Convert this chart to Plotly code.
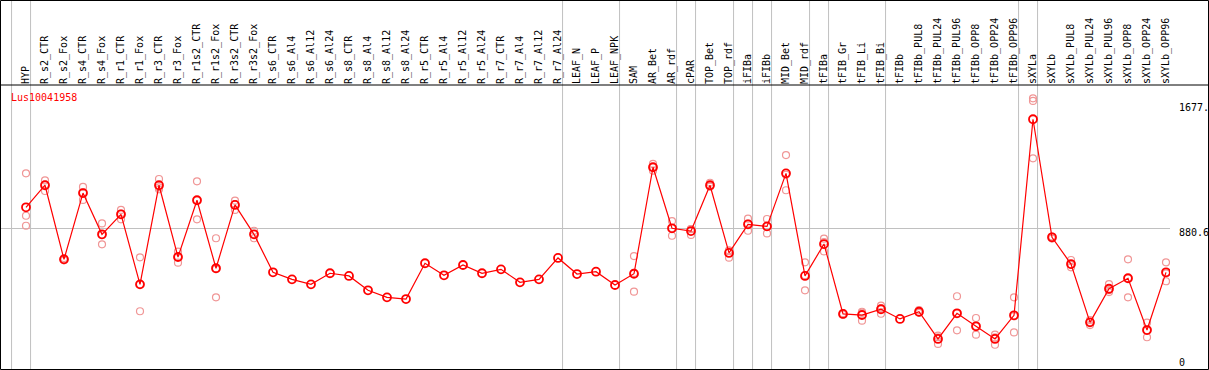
import plotly.graph_objects as go

categories = ["HYP", "R_s2_CTR", "R_s2_Fox", "R_s4_CTR", "R_s4_Fox", "R_r1_CTR", "R_r1_Fox",
              "R_r3_CTR", "R_r3_Fox", "R_r1s2_CTR", "R_r1s2_Fox", "R_r3s2_CTR", "R_r3s2_Fox",
              "R_s6_CTR", "R_s6_Al4", "R_s6_Al12", "R_s6_Al24", "R_s8_CTR", "R_s8_Al4",
              "R_s8_Al12", "R_s8_Al24", "R_r5_CTR", "R_r5_Al4", "R_r5_Al12", "R_r5_Al24",
              "R_r7_CTR", "R_r7_Al4", "R_r7_Al12", "R_r7_Al24", "LEAF_N", "LEAF_P", "LEAF_NPK",
              "SAM", "AR_Bet", "AR_rdf", "cPAR", "TOP_Bet", "TOP_rdf", "iFIBa", "iFIBb",
              "MID_Bet", "MID_rdf", "tFIBa", "tFIB_Gr", "tFIB_Li", "tFIB_Bi", "tFIBb",
              "tFIBb_PUL8", "tFIBb_PUL24", "tFIBb_PUL96", "tFIBb_OPP8", "tFIBb_OPP24",
              "tFIBb_OPP96", "sXYLa", "sXYLb", "sXYLb_PUL8", "sXYLb_PUL24", "sXYLb_PUL96",
              "sXYLb_OPP8", "sXYLb_OPP24", "sXYLb_OPP96"]

mean_values = [1015, 1156, 682, 1106, 842, 970, 522, 1156, 697, 1060, 625, 1030, 842,
               599, 554, 522, 593, 576, 484, 439, 428, 657, 580, 646, 593, 618, 535, 554, 691,
               588, 603, 518, 590, 1271, 880.6, 863, 1156, 723, 906, 893, 1232, 576, 780,
               333, 326, 363, 301, 347, 173, 337, 254, 173, 324, 1578, 823, 652, 279, 494,
               561, 230, 599]

rep1 = [1232, 1187, 690, 1145, 912, 998, 695, 1196, 731, 1181, 817, 1057, 865,
        None, None, None, None, None, None, None, None, None, None, None, None, None, None,
        None, None, None, None, None, 703, 1292, 927, 876, 1172, 737, 942, 940, 1349, 663,
        814, 338, 347, 386, None, 358, 194, 446, 307, 200, 439, 1712, 826, 678, 294, 524,
        682, 277, 663]
rep2 = [961, 1119, 676, 1062, 778, 938, 350, 1130, 661, 938, 439, 998, 817,
        None, None, None, None, None, None, None, None, None, None, None, None, None, None,
        None, None, None, None, None, 475, 1249, 833, 838, 1147, 693, 865, 848, 1124, 484,
        733, 328, 290, 334, None, 340, 141, 228, 200, 136, 215, 1695, 815, 631, 262, 473,
        439, 184, 542]
rep3 = [897, 1160, 680, 1110, 836, 975, 522, 1142, 700, 1060, 620, 1035, 844,
        None, None, None, None, None, None, None, None, None, None, None, None, None, None,
        None, None, None, None, None, 595, 1272, 882, 875, 1150, 740, 911, 891, 1223, 581,
        793, 333, 341, 369, None, 343, 184, 337, 255, 183, 318, 1328, 828, 647, 281, 485,
        562, 229, 592]

# categories after which a grey separator is drawn (None = before the first one)
group_last = [None, "HYP", "R_r7_Al24", "LEAF_NPK", "AR_rdf", "cPAR", "TOP_rdf", "iFIBa",
              "iFIBb", "MID_rdf", "tFIBa", "tFIB_Bi", "tFIBb_OPP96", "sXYLa", "sXYLb_OPP96"]

y_tick_vals = [0, 880.6, 1677]
y_tick_text = ["0", "880.6", "1677."]
gene_id = "Lus10041958"

xs = list(range(1, len(categories) + 1))
FONT = "DejaVu Sans Mono"

fig = go.Figure()
for reps in (rep1, rep2, rep3):
    fig.add_trace(go.Scatter(
        x=xs, y=reps, mode="markers",
        marker=dict(symbol="circle-open", size=7, color="#f09696",
                    line=dict(width=1.2)),
        hoverinfo="skip", showlegend=False))

fig.add_trace(go.Scatter(
    x=xs, y=mean_values, mode="lines+markers",
    line=dict(color="#ff0000", width=1.2),
    marker=dict(symbol="circle-open", size=8, color="#ff0000", line=dict(width=1.8)),
    showlegend=False))

L, R, T, B = 1, 39, 85, 1
W, H = 1209, 370
pw, ph = W - L - R, H - T - B

def px_to_xpaper(px):
    return (px - L) / pw

def px_to_ypaper(py):
    return (H - B - py) / ph

shapes = []
for g in group_last:
    k = 0 if g is None else categories.index(g) + 1
    xv = k + 0.24
    shapes.append(dict(type="line", xref="x", yref="paper", x0=xv, x1=xv,
                       y0=0, y1=px_to_ypaper(0), line=dict(color="#c0c0c0", width=1),
                       layer="below"))
# frame
shapes.append(dict(type="rect", xref="paper", yref="paper",
                   x0=px_to_xpaper(0.5), x1=px_to_xpaper(1208.5),
                   y0=px_to_ypaper(369.5), y1=px_to_ypaper(0.5),
                   line=dict(color="black", width=1)))
shapes.append(dict(type="line", xref="paper", yref="paper",
                   x0=px_to_xpaper(0.5), x1=px_to_xpaper(1208.5),
                   y0=1, y1=1, line=dict(color="black", width=1)))

annotations = [dict(text=gene_id, xref="paper", yref="paper", x=px_to_xpaper(9),
                    y=px_to_ypaper(97), xanchor="left", yanchor="middle", showarrow=False,
                    font=dict(family=FONT, size=10, color="#ff0000"))]
shifts = {0: 4, 880.6: -4, 1677: -3.5}
for v, t in zip(y_tick_vals, y_tick_text):
    annotations.append(dict(text=t, xref="paper", yref="y", x=px_to_xpaper(1177), y=v,
                            yshift=shifts.get(v, 0), xanchor="left", yanchor="middle",
                            showarrow=False, font=dict(family=FONT, size=10, color="black")))

fig.update_layout(
    width=W, height=H,
    margin=dict(l=L, r=R, t=T, b=B, pad=0),
    paper_bgcolor="white", plot_bgcolor="white",
    shapes=shapes, annotations=annotations,
    xaxis=dict(range=[(1 - 7) / 19, (1170 - 7) / 19], side="top",
               tickmode="array", tickvals=xs, ticktext=categories, tickangle=-90,
               tickfont=dict(family=FONT, size=10, color="black"),
               showgrid=False, zeroline=False, showline=False, ticks=""),
    yaxis=dict(range=[-19.2, 1797], tickmode="array", tickvals=[880.6],
               showticklabels=False, showgrid=True, gridcolor="#c0c0c0", gridwidth=1,
               zeroline=False, showline=False, ticks=""),
)

fig.write_html("out.html", config={"displayModeBar": False})

# remove the default page margin so the figure sits at the window's top-left corner
with open("out.html", encoding="utf-8") as f:
    html = f.read()
html = html.replace("<head>", "<head><style>html,body{margin:0;padding:0;overflow:hidden}</style>", 1)
with open("out.html", "w", encoding="utf-8") as f:
    f.write(html)
